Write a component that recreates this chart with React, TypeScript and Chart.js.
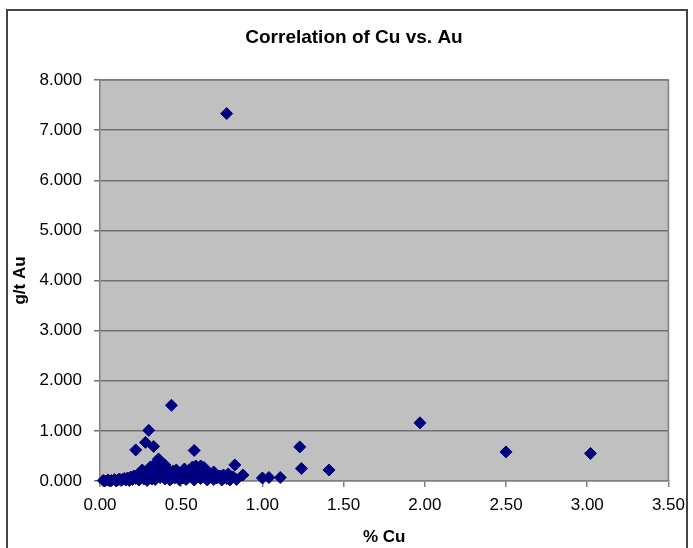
import React, { useEffect, useRef } from "react";
import { Chart, registerables } from "chart.js";

Chart.register(...registerables);

const chartTitle = "Correlation of Cu vs. Au";
const xAxisTitle = "% Cu";
const yAxisTitle = "g/t Au";

// % Cu values of the samples
const cuPct: number[] = [
  0.02, 0.03, 0.05, 0.06, 0.07, 0.09, 0.10, 0.11, 0.12, 0.13,
  0.14, 0.15, 0.16, 0.17, 0.18, 0.19, 0.20, 0.21, 0.22, 0.23,
  0.24, 0.25, 0.26, 0.27, 0.28, 0.29, 0.29, 0.30, 0.31, 0.32,
  0.32, 0.33, 0.34, 0.34, 0.35, 0.35, 0.36, 0.36, 0.37, 0.37,
  0.38, 0.38, 0.39, 0.40, 0.40, 0.41, 0.42, 0.42, 0.43, 0.44,
  0.45, 0.46, 0.47, 0.48, 0.49, 0.50, 0.51, 0.52, 0.53, 0.54,
  0.55, 0.56, 0.57, 0.58, 0.58, 0.59, 0.60, 0.61, 0.62, 0.63,
  0.64, 0.65, 0.66, 0.67, 0.68, 0.69, 0.70, 0.71, 0.72, 0.74,
  0.75, 0.76, 0.78, 0.79, 0.80, 0.82, 0.84,
  0.26, 0.31, 0.40, 0.47, 0.52, 0.62, 0.33, 0.44, 0.70, 0.24,
  // scattered higher values
  0.78, 0.44, 0.30, 0.28, 0.33, 0.22, 0.58, 1.23, 1.24, 1.41,
  0.83, 0.88, 1.00, 1.04, 1.11, 1.97, 2.50, 3.02,
];

// g/t Au values of the same samples
const auGpt: number[] = [
  0.01, 0.00, 0.02, 0.00, 0.01, 0.03, 0.00, 0.02, 0.04, 0.01,
  0.03, 0.05, 0.02, 0.06, 0.01, 0.08, 0.03, 0.10, 0.05, 0.12,
  0.02, 0.08, 0.15, 0.04, 0.18, 0.10, 0.01, 0.22, 0.06, 0.16,
  0.04, 0.26, 0.03, 0.32, 0.12, 0.38, 0.20, 0.44, 0.30, 0.07,
  0.36, 0.15, 0.25, 0.04, 0.18, 0.24, 0.10, 0.20, 0.02, 0.14,
  0.20, 0.06, 0.16, 0.10, 0.02, 0.14, 0.06, 0.18, 0.03, 0.12,
  0.22, 0.08, 0.28, 0.02, 0.16, 0.30, 0.10, 0.24, 0.05, 0.18,
  0.27, 0.10, 0.02, 0.16, 0.08, 0.12, 0.03, 0.14, 0.06, 0.10,
  0.02, 0.12, 0.05, 0.14, 0.02, 0.08, 0.03,
  0.22, 0.28, 0.32, 0.22, 0.24, 0.30, 0.15, 0.06, 0.18, 0.14,
  // scattered higher values
  7.33, 1.51, 1.01, 0.77, 0.69, 0.62, 0.61, 0.68, 0.25, 0.22,
  0.32, 0.12, 0.06, 0.07, 0.07, 1.16, 0.58, 0.55,
];

const xTicks = [0, 0.5, 1, 1.5, 2, 2.5, 3, 3.5];
const yTicks = [0, 1, 2, 3, 4, 5, 6, 7, 8];

const FONT = "'Liberation Sans', Arial, Helvetica, sans-serif";

const framePlugin = {
  id: "framePlugin",
  beforeDraw(chart: any) {
    const { ctx, chartArea } = chart;
    ctx.save();
    ctx.fillStyle = "#c0c0c0";
    ctx.fillRect(
      chartArea.left,
      chartArea.top,
      chartArea.right - chartArea.left,
      chartArea.bottom - chartArea.top
    );
    ctx.strokeStyle = "#444444";
    ctx.lineWidth = 2;
    ctx.beginPath();
    ctx.moveTo(7, 560);
    ctx.lineTo(7, 10);
    ctx.lineTo(687, 10);
    ctx.lineTo(687, 560);
    ctx.stroke();
    ctx.restore();
  },
  beforeDatasetsDraw(chart: any) {
    const { ctx, chartArea } = chart;
    ctx.save();
    ctx.strokeStyle = "#808080";
    ctx.lineWidth = 1.5;
    ctx.beginPath();
    ctx.moveTo(chartArea.left, chartArea.top);
    ctx.lineTo(chartArea.right, chartArea.top);
    ctx.lineTo(chartArea.right, chartArea.bottom);
    ctx.stroke();
    ctx.restore();
  },
};

export default function App() {
  const canvasRef = useRef<HTMLCanvasElement | null>(null);

  useEffect(() => {
    if (!canvasRef.current) return;
    const points = cuPct.map((x, i) => ({ x, y: auGpt[i] }));
    const chart = new Chart(canvasRef.current, {
      type: "scatter",
      data: {
        datasets: [
          {
            label: "Au vs Cu",
            data: points,
            pointStyle: "rectRot",
            pointRadius: 6,
            pointBorderWidth: 1,
            backgroundColor: "#000080",
            borderColor: "#000080",
            clip: false as any,
          },
        ],
      },
      options: {
        responsive: false,
        animation: false,
        devicePixelRatio: 1,
        layout: { padding: { left: 38, right: 23, top: 0, bottom: 0 } },
        plugins: {
          legend: { display: false },
          tooltip: { enabled: false },
          title: {
            display: true,
            text: chartTitle,
            color: "#000",
            font: { family: FONT, size: 19, weight: "bold" },
            padding: { top: 26, bottom: 31.2 },
          },
        },
        scales: {
          x: {
            type: "linear",
            min: 0,
            max: 3.5,
            afterBuildTicks: (scale: any) => {
              scale.ticks = xTicks.map((v) => ({ value: v }));
            },
            afterFit: (scale: any) => {
              scale.height = 67;
            },
            ticks: {
              autoSkip: false,
              maxRotation: 0,
              padding: 8,
              color: "#000",
              font: { family: FONT, size: 17 },
              callback: (v: any) => Number(v).toFixed(2),
            },
            grid: {
              drawOnChartArea: false,
              drawTicks: true,
              tickLength: 6,
              color: "#808080",
              lineWidth: 1.5,
            },
            border: { display: true, color: "#808080", width: 1.5 },
            title: {
              display: true,
              text: xAxisTitle,
              color: "#000",
              font: { family: FONT, size: 17, weight: "bold" },
              padding: { top: 0, bottom: 0 },
            },
          },
          y: {
            type: "linear",
            min: 0,
            max: 8,
            afterBuildTicks: (scale: any) => {
              scale.ticks = yTicks.map((v) => ({ value: v }));
            },
            afterFit: (scale: any) => {
              scale.width = 62;
            },
            ticks: {
              autoSkip: false,
              padding: 12,
              color: "#000",
              font: { family: FONT, size: 17 },
              callback: (v: any) => Number(v).toFixed(3),
            },
            grid: {
              drawOnChartArea: true,
              drawTicks: true,
              tickLength: 6,
              color: "#707070",
              lineWidth: 1.5,
            },
            border: { display: true, color: "#808080", width: 1.5 },
            title: {
              display: true,
              text: yAxisTitle,
              color: "#000",
              font: { family: FONT, size: 17, weight: "bold" },
              padding: { top: -28, bottom: 0 },
            },
          },
        },
      },
      plugins: [framePlugin],
    });
    return () => chart.destroy();
  }, []);

  return (
    <div
      style={{
        position: "absolute",
        left: 0,
        top: 0,
        width: 693,
        height: 548,
        background: "#fff",
      }}
    >
      <canvas
        ref={canvasRef}
        width={693}
        height={548}
        style={{ width: 693, height: 548, display: "block" }}
      />
    </div>
  );
}
